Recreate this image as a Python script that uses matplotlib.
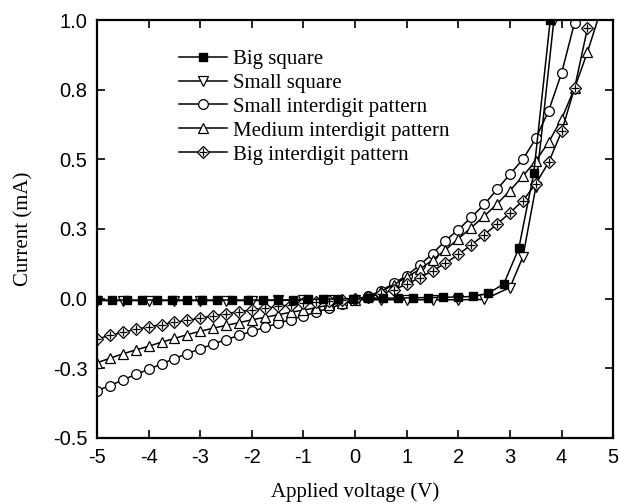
import matplotlib
matplotlib.use("Agg")
import matplotlib.pyplot as plt
from matplotlib.legend_handler import HandlerTuple

plt.rcParams["axes.unicode_minus"] = False

# ---------------- data ----------------
big_sq_v = [-5.0, -4.71, -4.42, -4.12, -3.83, -3.54, -3.25, -2.96, -2.67, -2.38, -2.08,
            -1.79, -1.5, -1.21, -0.92, -0.62, -0.33, -0.04, 0.25, 0.54, 0.83, 1.12,
            1.42, 1.71, 2.0, 2.29, 2.58, 2.88, 3.17, 3.46, 3.78]
big_sq_i = [-0.005, -0.005, -0.005, -0.005, -0.005, -0.005, -0.005, -0.005, -0.005, -0.005,
            -0.005, -0.005, -0.005, -0.004, -0.003, -0.002, -0.001, 0.0, 0.001, 0.002,
            0.002, 0.003, 0.004, 0.005, 0.006, 0.008, 0.019, 0.053, 0.18, 0.45, 1.0]

small_sq_v = [-5.0, -4.5, -4.0, -3.5, -3.0, -2.5, -2.0, -1.5, -1.0, -0.5, 0.0, 0.5, 1.0,
              1.5, 2.0, 2.5, 3.0, 3.25, 3.5, 3.85]
small_sq_i = [-0.007, -0.007, -0.007, -0.007, -0.007, -0.007, -0.007, -0.006, -0.006,
              -0.005, -0.004, -0.004, -0.004, -0.004, -0.004, -0.003, 0.04, 0.15, 0.40, 1.0]

small_id_v = [-5.0, -4.75, -4.5, -4.25, -4.0, -3.75, -3.5, -3.25, -3.0, -2.75, -2.5, -2.25,
              -2.0, -1.75, -1.5, -1.25, -1.0, -0.75, -0.5, -0.25, 0.0, 0.25, 0.5, 0.75,
              1.0, 1.25, 1.5, 1.75, 2.0, 2.25, 2.5, 2.75, 3.0, 3.25, 3.5, 3.75, 4.0, 4.25]
small_id_i = [-0.330, -0.312, -0.292, -0.272, -0.254, -0.234, -0.215, -0.197, -0.180,
              -0.163, -0.147, -0.132, -0.117, -0.103, -0.089, -0.075, -0.062, -0.048,
              -0.034, -0.020, -0.006, 0.008, 0.028, 0.055, 0.083, 0.120, 0.162, 0.208,
              0.248, 0.292, 0.338, 0.392, 0.447, 0.500, 0.575, 0.675, 0.810, 0.990]

med_id_v = [-5.0, -4.75, -4.5, -4.25, -4.0, -3.75, -3.5, -3.25, -3.0, -2.75, -2.5, -2.25,
            -2.0, -1.75, -1.5, -1.25, -1.0, -0.75, -0.5, -0.25, 0.0, 0.25, 0.5, 0.75,
            1.0, 1.25, 1.5, 1.75, 2.0, 2.25, 2.5, 2.75, 3.0, 3.25, 3.5, 3.75, 4.0, 4.25,
            4.5, 4.75]
med_id_i = [-0.230, -0.214, -0.198, -0.184, -0.171, -0.156, -0.143, -0.129, -0.117,
            -0.106, -0.096, -0.086, -0.076, -0.067, -0.058, -0.049, -0.041, -0.032,
            -0.023, -0.014, -0.004, 0.008, 0.026, 0.050, 0.077, 0.105, 0.139, 0.175,
            0.215, 0.255, 0.296, 0.340, 0.388, 0.440, 0.495, 0.562, 0.645, 0.755,
            0.885, 1.03]

big_id_v = [-5.0, -4.75, -4.5, -4.25, -4.0, -3.75, -3.5, -3.25, -3.0, -2.75, -2.5, -2.25,
            -2.0, -1.75, -1.5, -1.25, -1.0, -0.75, -0.5, -0.25, 0.0, 0.25, 0.5, 0.75,
            1.0, 1.25, 1.5, 1.75, 2.0, 2.25, 2.5, 2.75, 3.0, 3.25, 3.5, 3.75, 4.0, 4.25,
            4.5]
big_id_i = [-0.145, -0.132, -0.121, -0.110, -0.101, -0.093, -0.085, -0.078, -0.070,
            -0.062, -0.054, -0.047, -0.040, -0.034, -0.028, -0.022, -0.017, -0.012,
            -0.008, -0.004, 0.000, 0.006, 0.016, 0.032, 0.052, 0.075, 0.100, 0.127,
            0.159, 0.193, 0.229, 0.268, 0.308, 0.352, 0.412, 0.490, 0.600, 0.755, 0.97]

labels = ["Big square", "Small square", "Small interdigit pattern",
          "Medium interdigit pattern", "Big interdigit pattern"]

x_ticks = [-5, -4, -3, -2, -1, 0, 1, 2, 3, 4, 5]
y_ticks = [-0.5, -0.25, 0.0, 0.25, 0.5, 0.75, 1.0]
y_tick_labels = ["-0.5", "-0.3", "0.0", "0.3", "0.5", "0.8", "1.0"]

# ---------------- figure ----------------
fig = plt.figure(figsize=(6.19, 5.04), dpi=100)
ax = fig.add_axes([0.1567, 0.131, 0.834, 0.8293])

lw = 1.1
ms = 6.5
h1, = ax.plot(big_sq_v, big_sq_i, color="black", lw=lw, marker="s", ms=ms - 0.5,
              mfc="black", mec="black", zorder=3)
h2, = ax.plot(small_sq_v, small_sq_i, color="black", lw=lw, marker="v", ms=ms,
              mfc="white", mec="black", mew=0.9, zorder=2)
h3, = ax.plot(small_id_v, small_id_i, color="black", lw=lw, marker="o", ms=ms + 0.5,
              mfc="white", mec="black", mew=0.9, zorder=2)
h4, = ax.plot(med_id_v, med_id_i, color="black", lw=lw, marker="^", ms=ms + 0.5,
              mfc="white", mec="black", mew=0.9, zorder=2)
h5a, = ax.plot(big_id_v, big_id_i, color="black", lw=lw, marker="D", ms=ms - 0.5,
               mfc="white", mec="black", mew=0.9, zorder=2)
h5b, = ax.plot(big_id_v, big_id_i, ls="none", marker="+", ms=ms - 0.5,
               mec="black", mew=0.9, zorder=2.1)

ax.set_xlim(-5, 5)
ax.set_ylim(-0.5, 1.0)
ax.set_xticks(x_ticks)
ax.set_yticks(y_ticks)
ax.set_yticklabels(y_tick_labels)

for lab in ax.get_xticklabels() + ax.get_yticklabels():
    lab.set_fontfamily("Liberation Sans")
    lab.set_fontsize(14.5)

ax.tick_params(direction="in", length=6, width=1.2, top=True, right=True, pad=7)
for s in ax.spines.values():
    s.set_linewidth(1.6)

serif = {"family": "Liberation Serif", "size": 15}
ax.set_xlabel("Applied voltage (V)", fontdict=serif, labelpad=11)
ax.set_ylabel("Current (mA)", fontdict=serif, labelpad=14)

leg = ax.legend([h1, h2, h3, h4, (h5a, h5b)], labels,
                handler_map={tuple: HandlerTuple(ndivide=1)},
                loc="upper left", bbox_to_anchor=(0.15, 0.94),
                frameon=False, prop={"family": "Liberation Serif", "size": 15},
                handlelength=2.3, handletextpad=0.3, labelspacing=0.21,
                borderaxespad=0.0, borderpad=0.2)

fig.savefig("out.png", dpi=100)
